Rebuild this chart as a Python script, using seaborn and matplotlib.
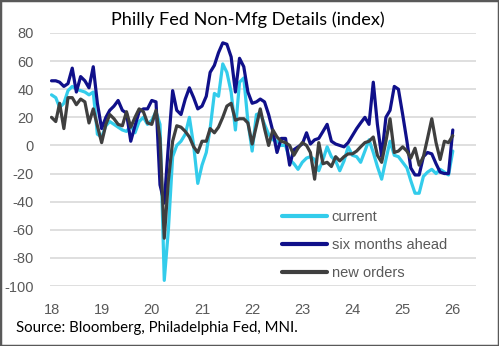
import numpy as np
import pandas as pd
import matplotlib
matplotlib.use("Agg")
import matplotlib.pyplot as plt
from matplotlib.patches import Rectangle
from matplotlib.lines import Line2D
import seaborn as sns

# ---- data (monthly, Jan 2018 .. Jan 2026) ----
start_month = "2018-01-01"
n_months = 97

current = [36, 34, 27, 30, 39, 42, 40, 39, 38, 36, 38, 8,
           6, 14, 17, 15, 13, 11, 10, 14, 9, 17, 20, 15,
           18, 24, 15, -96, -60, -8, 0, 3, 8, 20, 0, -27,
           -14, -5, 12, 37, 35, 58, 52, 38, 11, 45, 48, 17,
           -4, 22, 23, 15, 8, 4, 3, 0, 0, -10, -13, -17,
           -12, -9, -8, -10, -18, -10, -1, -8, -11, -18, -11, -1,
           -7, -8, -12, -4, 4, -5, -15, -24, -10, 3, -7, -8,
           -12, -16, -25, -34, -34, -22, -19, -17, -20, -17, -19, -21, -4]

six_months_ahead = [46, 46, 45, 42, 44, 55, 38, 49, 46, 41, 56, 30,
                    12, 20, 25, 28, 32, 25, 23, 3, 14, 24, 26, 26,
                    32, 31, -28, -41, 0, 39, 25, 22, 33, 41, 34, 26,
                    28, 35, 52, 57, 66, 73, 72, 63, 38, 62, 56, 38,
                    30, 31, 33, 31, 22, 10, -5, 5, 5, -14, -3, -1,
                    1, 9, 1, 4, 5, 10, 15, 3, 1, 0, -1, 2,
                    7, 12, 16, 20, 15, 45, 15, -8, 20, 25, 42, 40,
                    22, 3, -16, -21, -21, -8, -5, -6, -13, -19, -20, -20, 11]

new_orders = [20, 17, 30, 12, 34, 34, 29, 33, 31, 16, 26, 14,
              2, 15, 22, 19, 15, 14, 24, 13, 20, 26, 24, 16,
              15, 25, 5, -66, -25, 3, 14, 13, 10, 6, -1, -5,
              3, 3, 12, 9, 13, 20, 28, 30, 18, 19, 19, 16,
              1, 14, 26, 12, 0, 11, 6, 3, 2, 0, -7, -2,
              2, 0, -5, -24, 2, -13, -12, -15, -8, -11, -8, -6,
              -6, -4, -1, 2, 3, 6, -7, -12, 3, 19, -5, -4,
              -1, -4, -9, -2, -14, -8, 5, 19, 2, -10, 3, 2, 7]

series_names = ["current", "six months ahead", "new orders"]
series_colors = ["#33CCEB", "#10108A", "#3F3F3F"]
year_labels = ["18", "19", "20", "21", "22", "23", "24", "25", "26"]
y_ticks = [-100, -80, -60, -40, -20, 0, 20, 40, 60, 80]

title = "Philly Fed Non-Mfg Details (index)"
source = "Source: Bloomberg, Philadelphia Fed, MNI."

# ---- build frame ----
dates = pd.date_range(start_month, periods=n_months, freq="MS")
wide = pd.DataFrame({"date": dates,
                     series_names[0]: current,
                     series_names[1]: six_months_ahead,
                     series_names[2]: new_orders})
long = wide.melt(id_vars="date", var_name="series", value_name="value")

sns.set_theme(style="white")
plt.rcParams["font.family"] = ["Liberation Sans", "DejaVu Sans"]

fig = plt.figure(figsize=(4.99, 3.46), dpi=100)
ax = fig.add_axes([50 / 499, 1 - 286 / 346, 426 / 499, 253 / 346])

sns.lineplot(data=long, x="date", y="value", hue="series",
             hue_order=series_names, palette=dict(zip(series_names, series_colors)),
             linewidth=2.3, ax=ax, legend=False)

ax.set_ylim(-100, 80)
ax.set_yticks(y_ticks)
ax.set_yticklabels([str(v) for v in y_ticks])
ax.set_xlim(pd.Timestamp("2017-12-21"), pd.Timestamp("2026-06-19"))
xt = [pd.Timestamp(f"20{y}-01-01") for y in year_labels]
ax.set_xticks(xt)
ax.set_xticklabels(year_labels)
ax.set_xlabel("")
ax.set_ylabel("")
ax.grid(axis="y", color="#D9D9D9", linewidth=1.2)
ax.grid(axis="x", visible=False)
ax.set_axisbelow(True)
for s in ax.spines.values():
    s.set_visible(False)
ax.tick_params(axis="both", length=0, labelsize=10.5, labelcolor="#595959")
ax.tick_params(axis="y", pad=11.5)
ax.tick_params(axis="x", pad=12)

fig.text(0.497, 1 - 20 / 346, title, ha="center", va="center",
         fontsize=13.1, family=["Lato", "DejaVu Sans"], color="#000000")
fig.text(16 / 499, 1 - 328 / 346, source, ha="left", va="center",
         fontsize=10.8, family=["Lato", "DejaVu Sans"], color="#000000")

handles = [Line2D([], [], color=c, linewidth=3) for c in series_colors]
leg = fig.legend(handles, series_names, loc="upper left",
                 bbox_to_anchor=(282 / 499, 1 - 210 / 346),
                 frameon=False, borderpad=0, borderaxespad=0,
                 handlelength=3.1, handletextpad=0.3, labelspacing=0.95,
                 prop={"size": 10.5})
for t in leg.get_texts():
    t.set_color("#595959")

fig.patches.append(Rectangle((0, 0), 1, 1, transform=fig.transFigure, fill=False,
                             edgecolor="#595959", linewidth=2.5))

fig.savefig("out.png", dpi=100)
